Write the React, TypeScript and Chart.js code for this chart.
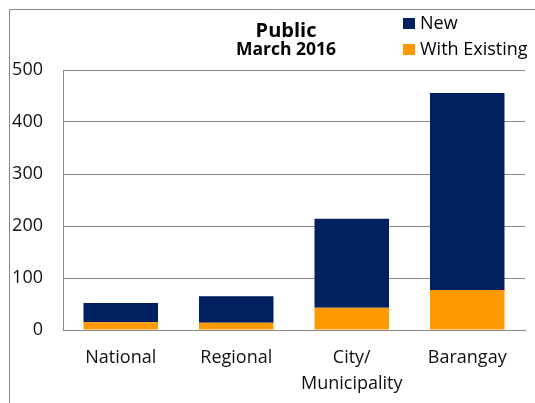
import React, { useEffect, useRef } from "react";
import { Chart, registerables } from "chart.js";

Chart.register(...registerables);

const categories: (string | string[])[] = ["National", "Regional", ["City/", "Municipality"], "Barangay"];
const withExisting = [15, 14, 43, 77];
const newValues = [37, 51, 171, 379];
const yTicks = [0, 100, 200, 300, 400, 500];
const titleText = "Public";
const subtitleText = "March 2016";
const seriesNames = { new: "New", existing: "With Existing" };
const colors = { new: "#002060", existing: "#FF9900" };

const FONT = "'Open Sans', 'Noto Sans', sans-serif";

const decorPlugin = {
  id: "decor",
  beforeDraw(chart: any) {
    const ctx = chart.ctx;
    ctx.save();
    ctx.strokeStyle = "#898989";
    ctx.lineWidth = 1;
    ctx.beginPath();
    ctx.moveTo(9.5, 403);
    ctx.lineTo(9.5, 9.5);
    ctx.lineTo(535, 9.5);
    ctx.stroke();
    ctx.restore();
  },
  afterDraw(chart: any) {
    const ctx = chart.ctx;
    ctx.save();
    ctx.fillStyle = "#000";
    ctx.textAlign = "center";
    ctx.textBaseline = "alphabetic";
    ctx.font = `bold 20px ${FONT}`;
    ctx.fillText(titleText, 286, 36.5);
    ctx.font = `bold 17.5px ${FONT}`;
    ctx.fillText(subtitleText, 286, 55);
    // legend
    const items = [
      { label: seriesNames.new, color: colors.new, y: 29 },
      { label: seriesNames.existing, color: colors.existing, y: 55 },
    ];
    ctx.textAlign = "left";
    ctx.font = `18px ${FONT}`;
    for (const it of items) {
      ctx.fillStyle = it.color;
      ctx.fillRect(403, it.y - 11, 12, 11);
      ctx.fillStyle = "#000";
      ctx.fillText(it.label, 420, it.y);
    }
    ctx.restore();
  },
};

export default function App() {
  const ref = useRef<HTMLCanvasElement>(null);
  useEffect(() => {
    if (!ref.current) return;
    const chart = new Chart(ref.current, {
      type: "bar",
      data: {
        labels: categories as any,
        datasets: [
          {
            label: seriesNames.existing,
            data: withExisting,
            backgroundColor: colors.existing,
            borderWidth: 0,
          },
          {
            label: seriesNames.new,
            data: newValues,
            backgroundColor: colors.new,
            borderWidth: 0,
          },
        ],
      },
      options: {
        animation: false,
        responsive: false,
        maintainAspectRatio: false,
        layout: { padding: { left: 10, right: 10, top: 70, bottom: 0 } },
        plugins: {
          legend: { display: false },
          title: { display: false },
          tooltip: { enabled: false },
        },
        datasets: { bar: { barPercentage: 0.645, categoryPercentage: 1 } },
        scales: {
          x: {
            stacked: true,
            grid: { display: false, drawTicks: false },
            border: { display: true, color: "#898989", width: 1 },
            ticks: {
              color: "#111",
              padding: 15,
              maxRotation: 0,
              autoSkip: false,
              font: { family: FONT, size: 18, lineHeight: 1.45 },
            },
            afterFit(scale: any) {
              scale.height = 73;
            },
          },
          y: {
            stacked: true,
            min: 0,
            max: 500,
            afterBuildTicks(scale: any) {
              scale.ticks = yTicks.map((v) => ({ value: v }));
            },
            grid: { color: "#898989", drawTicks: false, lineWidth: 1 },
            border: { display: true, color: "#898989", width: 1 },
            ticks: {
              color: "#111",
              padding: 20,
              font: { family: FONT, size: 18 },
            },
            afterFit(scale: any) {
              scale.width = 53;
            },
          },
        },
      },
      plugins: [decorPlugin],
    });
    return () => chart.destroy();
  }, []);
  return (
    <div style={{ position: "absolute", left: 0, top: 0, width: 535, height: 403, background: "#fff" }}>
      <canvas ref={ref} width={535} height={403} style={{ display: "block", width: 535, height: 403 }} />
    </div>
  );
}
